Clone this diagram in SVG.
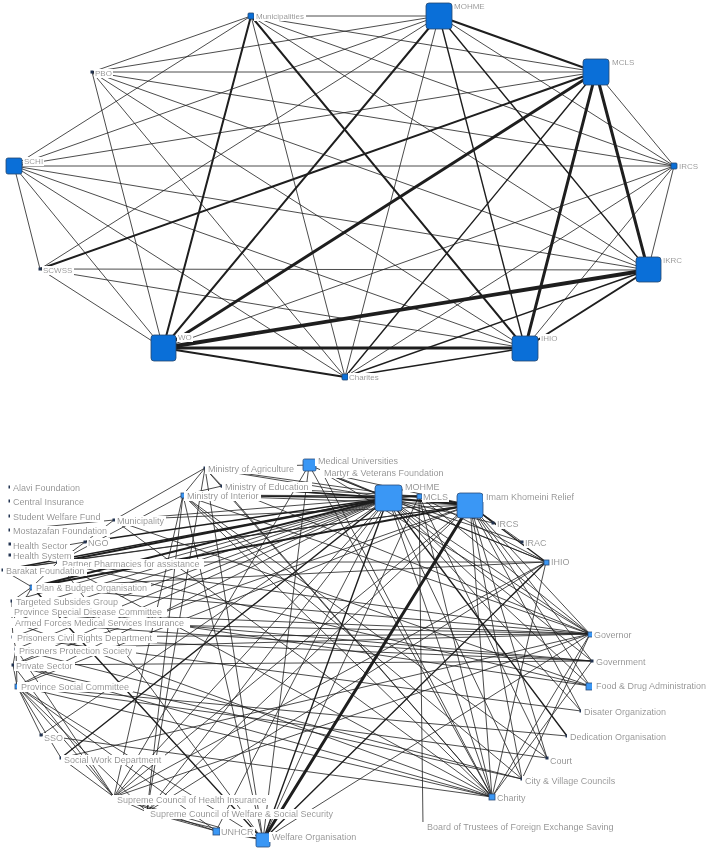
<svg xmlns="http://www.w3.org/2000/svg" width="709" height="849" viewBox="0 0 709 849">
<defs>
<filter id="lbg" x="-0.03" y="0" width="1.06" height="1"><feFlood flood-color="#ffffff"/><feComposite in="SourceGraphic" operator="over"/></filter>
<style>
line{stroke:#1e1e1e;stroke-linecap:round}
.e{stroke-width:.8}
.m{stroke-width:1.4}
.t{stroke-width:2}
.tt{stroke-width:3}
.t4{stroke-width:3.8}
text{font-family:"Liberation Sans",Arial,sans-serif;fill:#8c8c8c;filter:url(#lbg)}
.lt{font-size:8px}
.lb{font-size:9px}
.bt{fill:#0a6fd8;stroke:#23466f;stroke-width:.8}
.bb{fill:#3a97f5;stroke:#2b4d78;stroke-width:.8}
.dot{fill:#233452}
</style>
</defs>
<rect width="709" height="849" fill="#fff"/>

<g id="top-connectors">
<line class="e" x1="251" y1="16" x2="439" y2="16"/>
<line class="e" x1="251" y1="16" x2="596" y2="72"/>
<line class="e" x1="251" y1="16" x2="674" y2="166"/>
<line class="e" x1="251" y1="16" x2="648" y2="270"/>
<line class="t" x1="251" y1="16" x2="525" y2="348"/>
<line class="e" x1="251" y1="16" x2="345" y2="377"/>
<line class="t" x1="251" y1="16" x2="163" y2="348"/>
<line class="e" x1="251" y1="16" x2="14" y2="166"/>
<line class="e" x1="251" y1="16" x2="92" y2="72"/>
<line class="t" x1="439" y1="16" x2="596" y2="72"/>
<line class="e" x1="439" y1="16" x2="674" y2="166"/>
<line class="m" x1="439" y1="16" x2="648" y2="270"/>
<line class="m" x1="439" y1="16" x2="525" y2="348"/>
<line class="e" x1="439" y1="16" x2="345" y2="377"/>
<line class="t" x1="439" y1="16" x2="163" y2="348"/>
<line class="e" x1="439" y1="16" x2="40" y2="269"/>
<line class="e" x1="439" y1="16" x2="14" y2="166"/>
<line class="e" x1="439" y1="16" x2="92" y2="72"/>
<line class="e" x1="596" y1="72" x2="674" y2="166"/>
<line class="tt" x1="596" y1="72" x2="648" y2="270"/>
<line class="tt" x1="596" y1="72" x2="525" y2="348"/>
<line class="m" x1="596" y1="72" x2="345" y2="377"/>
<line class="tt" x1="596" y1="72" x2="163" y2="348"/>
<line class="t" x1="596" y1="72" x2="40" y2="269"/>
<line class="e" x1="596" y1="72" x2="14" y2="166"/>
<line class="e" x1="596" y1="72" x2="92" y2="72"/>
<line class="e" x1="674" y1="166" x2="648" y2="270"/>
<line class="e" x1="674" y1="166" x2="525" y2="348"/>
<line class="e" x1="674" y1="166" x2="345" y2="377"/>
<line class="e" x1="674" y1="166" x2="163" y2="348"/>
<line class="e" x1="674" y1="166" x2="14" y2="166"/>
<line class="e" x1="674" y1="166" x2="92" y2="72"/>
<line class="t" x1="648" y1="270" x2="525" y2="348"/>
<line class="m" x1="648" y1="270" x2="345" y2="377"/>
<line class="t4" x1="648" y1="270" x2="163" y2="348"/>
<line class="e" x1="648" y1="270" x2="40" y2="269"/>
<line class="e" x1="648" y1="270" x2="14" y2="166"/>
<line class="e" x1="648" y1="270" x2="92" y2="72"/>
<line class="m" x1="525" y1="348" x2="345" y2="377"/>
<line class="tt" x1="525" y1="348" x2="163" y2="348"/>
<line class="e" x1="525" y1="348" x2="40" y2="269"/>
<line class="e" x1="525" y1="348" x2="14" y2="166"/>
<line class="e" x1="525" y1="348" x2="92" y2="72"/>
<line class="t" x1="345" y1="377" x2="163" y2="348"/>
<line class="e" x1="345" y1="377" x2="14" y2="166"/>
<line class="e" x1="345" y1="377" x2="92" y2="72"/>
<line class="e" x1="163" y1="348" x2="40" y2="269"/>
<line class="e" x1="163" y1="348" x2="14" y2="166"/>
<line class="e" x1="163" y1="348" x2="92" y2="72"/>
<line class="e" x1="40" y1="269" x2="14" y2="166"/>
</g>

<g id="t-municipalities"><rect class="bt" x="248" y="13" width="6" height="6" rx="1"/><text class="lt" x="256" y="19">Municipalities</text></g>
<g id="t-mohme"><rect class="bt" x="426" y="3" width="26" height="26" rx="3"/><text class="lt" x="454" y="9">MOHME</text></g>
<g id="t-mcls"><rect class="bt" x="583" y="59" width="26" height="26" rx="3"/><text class="lt" x="612" y="65">MCLS</text></g>
<g id="t-ircs"><rect class="bt" x="671" y="163" width="6" height="6" rx="1"/><text class="lt" x="679" y="169">IRCS</text></g>
<g id="t-ikrc"><rect class="bt" x="636" y="257" width="25" height="25" rx="3"/><text class="lt" x="663" y="263">IKRC</text></g>
<g id="t-ihio"><rect class="bt" x="512" y="336" width="26" height="25" rx="3"/><text class="lt" x="541" y="341">IHIO</text></g>
<g id="t-charites"><rect class="bt" x="342" y="374" width="6" height="6" rx="1"/><text class="lt" x="349" y="380">Charites</text></g>
<g id="t-wo"><rect class="bt" x="151" y="335" width="25" height="26" rx="3"/><text class="lt" x="178" y="340">WO</text></g>
<g id="t-scwss"><rect class="dot" x="38.5" y="267.5" width="3" height="3"/><text class="lt" x="43" y="273">SCWSS</text></g>
<g id="t-schi"><rect class="bt" x="6" y="158" width="16" height="16" rx="2"/><text class="lt" x="24" y="164">SCHI</text></g>
<g id="t-pbo"><rect class="dot" x="90.5" y="70.5" width="3" height="3"/><text class="lt" x="95" y="76">PBO</text></g>

<g id="bottom-connectors">
<line class="e" x1="85" y1="542" x2="10" y2="555"/>
<line class="e" x1="85" y1="542" x2="58" y2="562"/>
<line class="e" x1="85" y1="542" x2="114" y2="520"/>
<line class="m" x1="85" y1="542" x2="388" y2="498"/>
<line class="e" x1="114" y1="520" x2="10" y2="530"/>
<line class="e" x1="114" y1="520" x2="205" y2="468"/>
<line class="e" x1="114" y1="520" x2="388" y2="498"/>
<line class="e" x1="114" y1="520" x2="470" y2="505"/>
<line class="e" x1="114" y1="520" x2="492" y2="797"/>
<line class="e" x1="114" y1="520" x2="590" y2="686"/>
<line class="e" x1="58" y1="562" x2="3" y2="570"/>
<line class="e" x1="58" y1="562" x2="32" y2="587"/>
<line class="t" x1="58" y1="562" x2="388" y2="498"/>
<line class="e" x1="58" y1="562" x2="470" y2="505"/>
<line class="e" x1="58" y1="562" x2="183" y2="495"/>
<line class="e" x1="58" y1="562" x2="546" y2="562"/>
<line class="e" x1="58" y1="562" x2="590" y2="634"/>
<line class="e" x1="58" y1="562" x2="590" y2="686"/>
<line class="e" x1="58" y1="562" x2="492" y2="797"/>
<line class="e" x1="58" y1="562" x2="263" y2="840"/>
<line class="e" x1="3" y1="570" x2="32" y2="587"/>
<line class="m" x1="3" y1="570" x2="388" y2="498"/>
<line class="e" x1="3" y1="570" x2="470" y2="505"/>
<line class="e" x1="32" y1="587" x2="12" y2="601"/>
<line class="t" x1="32" y1="587" x2="388" y2="498"/>
<line class="t" x1="32" y1="587" x2="470" y2="505"/>
<line class="m" x1="32" y1="587" x2="263" y2="840"/>
<line class="e" x1="32" y1="587" x2="546" y2="562"/>
<line class="e" x1="32" y1="587" x2="590" y2="634"/>
<line class="e" x1="32" y1="587" x2="12" y2="622"/>
<line class="e" x1="12" y1="601" x2="12" y2="611"/>
<line class="e" x1="12" y1="601" x2="388" y2="498"/>
<line class="e" x1="12" y1="601" x2="590" y2="686"/>
<line class="e" x1="12" y1="611" x2="12" y2="622"/>
<line class="e" x1="12" y1="611" x2="388" y2="498"/>
<line class="e" x1="12" y1="611" x2="590" y2="634"/>
<line class="e" x1="12" y1="611" x2="592" y2="661"/>
<line class="e" x1="12" y1="622" x2="13" y2="637"/>
<line class="e" x1="12" y1="622" x2="388" y2="498"/>
<line class="e" x1="12" y1="622" x2="590" y2="634"/>
<line class="e" x1="12" y1="622" x2="592" y2="661"/>
<line class="e" x1="12" y1="622" x2="492" y2="797"/>
<line class="e" x1="13" y1="637" x2="16" y2="649"/>
<line class="e" x1="13" y1="637" x2="388" y2="498"/>
<line class="e" x1="13" y1="637" x2="590" y2="634"/>
<line class="e" x1="13" y1="637" x2="592" y2="661"/>
<line class="e" x1="13" y1="637" x2="581" y2="711"/>
<line class="e" x1="16" y1="649" x2="13" y2="665"/>
<line class="e" x1="16" y1="649" x2="17" y2="686"/>
<line class="e" x1="16" y1="649" x2="388" y2="498"/>
<line class="e" x1="16" y1="649" x2="522" y2="779"/>
<line class="e" x1="16" y1="649" x2="114" y2="797"/>
<line class="e" x1="16" y1="649" x2="590" y2="634"/>
<line class="e" x1="13" y1="665" x2="17" y2="686"/>
<line class="e" x1="13" y1="665" x2="388" y2="498"/>
<line class="e" x1="13" y1="665" x2="470" y2="505"/>
<line class="e" x1="13" y1="665" x2="522" y2="779"/>
<line class="e" x1="13" y1="665" x2="114" y2="797"/>
<line class="e" x1="13" y1="665" x2="492" y2="797"/>
<line class="e" x1="13" y1="665" x2="592" y2="661"/>
<line class="e" x1="17" y1="686" x2="41" y2="735"/>
<line class="e" x1="17" y1="686" x2="61" y2="758"/>
<line class="e" x1="17" y1="686" x2="114" y2="797"/>
<line class="e" x1="17" y1="686" x2="147" y2="812"/>
<line class="e" x1="17" y1="686" x2="388" y2="498"/>
<line class="e" x1="17" y1="686" x2="470" y2="505"/>
<line class="e" x1="17" y1="686" x2="492" y2="797"/>
<line class="e" x1="17" y1="686" x2="263" y2="840"/>
<line class="e" x1="17" y1="686" x2="547" y2="758"/>
<line class="e" x1="17" y1="686" x2="567" y2="736"/>
<line class="e" x1="17" y1="686" x2="216" y2="831"/>
<line class="e" x1="41" y1="735" x2="388" y2="498"/>
<line class="e" x1="41" y1="735" x2="492" y2="797"/>
<line class="m" x1="61" y1="758" x2="388" y2="498"/>
<line class="e" x1="61" y1="758" x2="114" y2="797"/>
<line class="e" x1="61" y1="758" x2="590" y2="634"/>
<line class="e" x1="114" y1="797" x2="147" y2="812"/>
<line class="e" x1="114" y1="797" x2="216" y2="831"/>
<line class="e" x1="114" y1="797" x2="183" y2="495"/>
<line class="e" x1="114" y1="797" x2="309" y2="465"/>
<line class="e" x1="114" y1="797" x2="388" y2="498"/>
<line class="e" x1="114" y1="797" x2="470" y2="505"/>
<line class="e" x1="114" y1="797" x2="546" y2="562"/>
<line class="e" x1="114" y1="797" x2="590" y2="634"/>
<line class="e" x1="114" y1="797" x2="263" y2="840"/>
<line class="e" x1="147" y1="812" x2="216" y2="831"/>
<line class="e" x1="147" y1="812" x2="183" y2="495"/>
<line class="e" x1="147" y1="812" x2="205" y2="468"/>
<line class="e" x1="147" y1="812" x2="388" y2="498"/>
<line class="e" x1="147" y1="812" x2="470" y2="505"/>
<line class="e" x1="147" y1="812" x2="546" y2="562"/>
<line class="e" x1="147" y1="812" x2="263" y2="840"/>
<line class="e" x1="216" y1="831" x2="263" y2="840"/>
<line class="e" x1="216" y1="831" x2="388" y2="498"/>
<line class="tt" x1="263" y1="840" x2="470" y2="505"/>
<line class="m" x1="263" y1="840" x2="388" y2="498"/>
<line class="m" x1="263" y1="840" x2="546" y2="562"/>
<line class="e" x1="263" y1="840" x2="205" y2="468"/>
<line class="e" x1="263" y1="840" x2="183" y2="495"/>
<line class="e" x1="263" y1="840" x2="309" y2="465"/>
<line class="e" x1="263" y1="840" x2="419" y2="496"/>
<line class="e" x1="263" y1="840" x2="590" y2="634"/>
<line class="e" x1="423" y1="826" x2="419" y2="496"/>
<line class="e" x1="492" y1="797" x2="388" y2="498"/>
<line class="e" x1="492" y1="797" x2="470" y2="505"/>
<line class="e" x1="492" y1="797" x2="419" y2="496"/>
<line class="e" x1="492" y1="797" x2="205" y2="468"/>
<line class="e" x1="492" y1="797" x2="222" y2="486"/>
<line class="e" x1="492" y1="797" x2="183" y2="495"/>
<line class="e" x1="492" y1="797" x2="322" y2="472"/>
<line class="e" x1="492" y1="797" x2="309" y2="465"/>
<line class="e" x1="492" y1="797" x2="590" y2="634"/>
<line class="e" x1="492" y1="797" x2="592" y2="661"/>
<line class="e" x1="492" y1="797" x2="546" y2="562"/>
<line class="e" x1="522" y1="779" x2="183" y2="495"/>
<line class="e" x1="522" y1="779" x2="388" y2="498"/>
<line class="e" x1="522" y1="779" x2="470" y2="505"/>
<line class="e" x1="522" y1="779" x2="590" y2="634"/>
<line class="e" x1="547" y1="758" x2="419" y2="496"/>
<line class="e" x1="547" y1="758" x2="470" y2="505"/>
<line class="e" x1="547" y1="758" x2="183" y2="495"/>
<line class="m" x1="567" y1="736" x2="388" y2="498"/>
<line class="e" x1="581" y1="711" x2="388" y2="498"/>
<line class="e" x1="581" y1="711" x2="470" y2="505"/>
<line class="e" x1="590" y1="686" x2="388" y2="498"/>
<line class="e" x1="590" y1="686" x2="470" y2="505"/>
<line class="e" x1="592" y1="661" x2="388" y2="498"/>
<line class="e" x1="592" y1="661" x2="470" y2="505"/>
<line class="e" x1="590" y1="634" x2="388" y2="498"/>
<line class="e" x1="590" y1="634" x2="470" y2="505"/>
<line class="e" x1="590" y1="634" x2="183" y2="495"/>
<line class="e" x1="590" y1="634" x2="419" y2="496"/>
<line class="e" x1="590" y1="634" x2="322" y2="472"/>
<line class="e" x1="590" y1="634" x2="222" y2="486"/>
<line class="e" x1="546" y1="562" x2="388" y2="498"/>
<line class="m" x1="546" y1="562" x2="470" y2="505"/>
<line class="e" x1="546" y1="562" x2="419" y2="496"/>
<line class="e" x1="546" y1="562" x2="322" y2="472"/>
<line class="e" x1="522" y1="542" x2="470" y2="505"/>
<line class="e" x1="522" y1="542" x2="388" y2="498"/>
<line class="e" x1="493" y1="523" x2="470" y2="505"/>
<line class="e" x1="493" y1="523" x2="388" y2="498"/>
<line class="t" x1="470" y1="505" x2="388" y2="498"/>
<line class="m" x1="470" y1="505" x2="419" y2="496"/>
<line class="e" x1="470" y1="505" x2="205" y2="468"/>
<line class="e" x1="470" y1="505" x2="222" y2="486"/>
<line class="e" x1="470" y1="505" x2="183" y2="495"/>
<line class="e" x1="470" y1="505" x2="322" y2="472"/>
<line class="m" x1="419" y1="496" x2="388" y2="498"/>
<line class="e" x1="419" y1="496" x2="222" y2="486"/>
<line class="e" x1="419" y1="496" x2="183" y2="495"/>
<line class="e" x1="388" y1="498" x2="205" y2="468"/>
<line class="m" x1="388" y1="498" x2="222" y2="486"/>
<line class="m" x1="388" y1="498" x2="183" y2="495"/>
<line class="e" x1="388" y1="498" x2="309" y2="465"/>
<line class="e" x1="388" y1="498" x2="322" y2="472"/>
<line class="e" x1="205" y1="468" x2="222" y2="486"/>
<line class="e" x1="205" y1="468" x2="183" y2="495"/>
<line class="e" x1="205" y1="468" x2="309" y2="465"/>
<line class="e" x1="222" y1="486" x2="183" y2="495"/>
</g>

<g id="b-alavi"><rect class="dot" x="8.5" y="485.5" width="3" height="3"/><text class="lb" x="13" y="491">Alavi Foundation</text></g>
<g id="b-central"><rect class="dot" x="8.5" y="499.5" width="3" height="3"/><text class="lb" x="13" y="505">Central Insurance</text></g>
<g id="b-student"><rect class="dot" x="8.5" y="514.5" width="3" height="3"/><text class="lb" x="13" y="520">Student Welfare Fund</text></g>
<g id="b-mostazafan"><rect class="dot" x="8.5" y="528.5" width="3" height="3"/><text class="lb" x="13" y="534">Mostazafan Foundation</text></g>
<g id="b-hsector"><rect class="dot" x="8.5" y="542.5" width="3" height="3"/><text class="lb" x="13" y="549">Health Sector</text></g>
<g id="b-hsystem"><rect class="dot" x="8.5" y="553.5" width="3" height="3"/><text class="lb" x="13" y="559">Health System</text></g>
<g id="b-municipality"><rect class="dot" x="112.5" y="518.5" width="3" height="3"/><text class="lb" x="117" y="524">Municipality</text></g>
<g id="b-ngo"><rect class="dot" x="83.5" y="540.5" width="3" height="3"/><text class="lb" x="88" y="546">NGO</text></g>
<g id="b-partner"><rect class="dot" x="56.5" y="560.5" width="3" height="3"/><text class="lb" x="62" y="567">Partner Pharmacies for assistance</text></g>
<g id="b-barakat"><rect class="dot" x="1.5" y="568.5" width="3" height="3"/><text class="lb" x="6" y="574">Barakat Foundation</text></g>
<g id="b-pbo"><rect class="bb" x="30" y="585" width="5" height="5"/><text class="lb" x="36" y="591">Plan &amp; Budget Organisation</text></g>
<g id="b-targeted"><rect class="dot" x="10.5" y="599.5" width="3" height="3"/><text class="lb" x="16" y="605">Targeted Subsides Group</text></g>
<g id="b-psdc"><rect class="dot" x="10.5" y="609.5" width="3" height="3"/><text class="lb" x="14" y="615">Province Special Disease Committee</text></g>
<g id="b-afmsi"><rect class="dot" x="10.5" y="620.5" width="3" height="3"/><text class="lb" x="15" y="626">Armed Forces Medical Services Insurance</text></g>
<g id="b-pcrd"><rect class="dot" x="11.5" y="635.5" width="3" height="3"/><text class="lb" x="17" y="641">Prisoners Civil Rights Department</text></g>
<g id="b-pps"><rect class="dot" x="14.5" y="647.5" width="3" height="3"/><text class="lb" x="19" y="654">Prisoners Protection Society</text></g>
<g id="b-private"><rect class="dot" x="11.5" y="663.5" width="3" height="3"/><text class="lb" x="16" y="669">Private Sector</text></g>
<g id="b-psc"><rect class="bb" x="15" y="684" width="5" height="5"/><text class="lb" x="21" y="690">Province Social Committee</text></g>
<g id="b-sso"><rect class="dot" x="39.5" y="733.5" width="3" height="3"/><text class="lb" x="44" y="741">SSO</text></g>
<g id="b-swd"><rect class="dot" x="59.5" y="756.5" width="3" height="3"/><text class="lb" x="64" y="763">Social Work Department</text></g>
<g id="b-schi"><rect class="dot" x="112.5" y="795.5" width="3" height="3"/><text class="lb" x="117" y="803">Supreme Council of Health Insurance</text></g>
<g id="b-scwss"><rect class="dot" x="145.5" y="810.5" width="3" height="3"/><text class="lb" x="150" y="817">Supreme Council of Welfare &amp; Social Security</text></g>
<g id="b-unhcr"><rect class="bb" x="213" y="828" width="7" height="7"/><text class="lb" x="221" y="835">UNHCR</text></g>
<g id="b-welfare"><rect class="bb" x="256" y="833" width="14" height="14" rx="1.5"/><text class="lb" x="272" y="840">Welfare Organisation</text></g>
<g id="b-board"><rect class="dot" x="421.5" y="824.5" width="3" height="3"/><text class="lb" x="427" y="830">Board of Trustees of Foreign Exchange Saving</text></g>
<g id="b-charity"><rect class="bb" x="489" y="794" width="6" height="6"/><text class="lb" x="497" y="801">Charity</text></g>
<g id="b-cvc"><rect class="dot" x="520.5" y="777.5" width="3" height="3"/><text class="lb" x="525" y="784">City &amp; Village Councils</text></g>
<g id="b-court"><rect class="dot" x="545.5" y="756.5" width="3" height="3"/><text class="lb" x="550" y="764">Court</text></g>
<g id="b-dedication"><rect class="dot" x="565.5" y="734.5" width="3" height="3"/><text class="lb" x="570" y="740">Dedication Organisation</text></g>
<g id="b-disater"><rect class="dot" x="579.5" y="709.5" width="3" height="3"/><text class="lb" x="584" y="715">Disater Organization</text></g>
<g id="b-fda"><rect class="bb" x="586" y="683" width="7" height="7"/><text class="lb" x="596" y="689">Food &amp; Drug Administration</text></g>
<g id="b-government"><rect class="dot" x="590.5" y="659.5" width="3" height="3"/><text class="lb" x="596" y="665">Government</text></g>
<g id="b-governor"><rect class="bb" x="588" y="632" width="5" height="5"/><text class="lb" x="594" y="638">Governor</text></g>
<g id="b-ihio"><rect class="bb" x="544" y="560" width="5" height="5"/><text class="lb" x="551" y="565">IHIO</text></g>
<g id="b-irac"><rect class="dot" x="520.5" y="540.5" width="3" height="3"/><text class="lb" x="525" y="546">IRAC</text></g>
<g id="b-ircs"><rect class="dot" x="491.5" y="521.5" width="3" height="3"/><text class="lb" x="497" y="527">IRCS</text></g>
<g id="b-ikr"><rect class="bb" x="457" y="493" width="26" height="25" rx="3"/><text class="lb" x="486" y="500">Imam Khomeini Relief</text></g>
<g id="b-mcls"><rect class="bb" x="417" y="494" width="5" height="5"/><text class="lb" x="423" y="500">MCLS</text></g>
<g id="b-mohme"><rect class="bb" x="375" y="485" width="27" height="26" rx="3"/><text class="lb" x="405" y="490">MOHME</text></g>
<g id="b-martyr"><rect class="dot" x="320.5" y="470.5" width="3" height="3"/><text class="lb" x="324" y="476">Martyr &amp; Veterans Foundation</text></g>
<g id="b-meduni"><rect class="bb" x="303" y="459" width="13" height="12" rx="1.5"/><text class="lb" x="318" y="464">Medical Universities</text></g>
<g id="b-moe"><rect class="dot" x="220.5" y="484.5" width="3" height="3"/><text class="lb" x="225" y="490">Ministry of Education</text></g>
<g id="b-moa"><rect class="dot" x="203.5" y="466.5" width="3" height="3"/><text class="lb" x="208" y="472">Ministry of Agriculture</text></g>
<g id="b-moi"><rect class="bb" x="181" y="493" width="5" height="5"/><text class="lb" x="187" y="499">Ministry of Interior</text></g>
</svg>
